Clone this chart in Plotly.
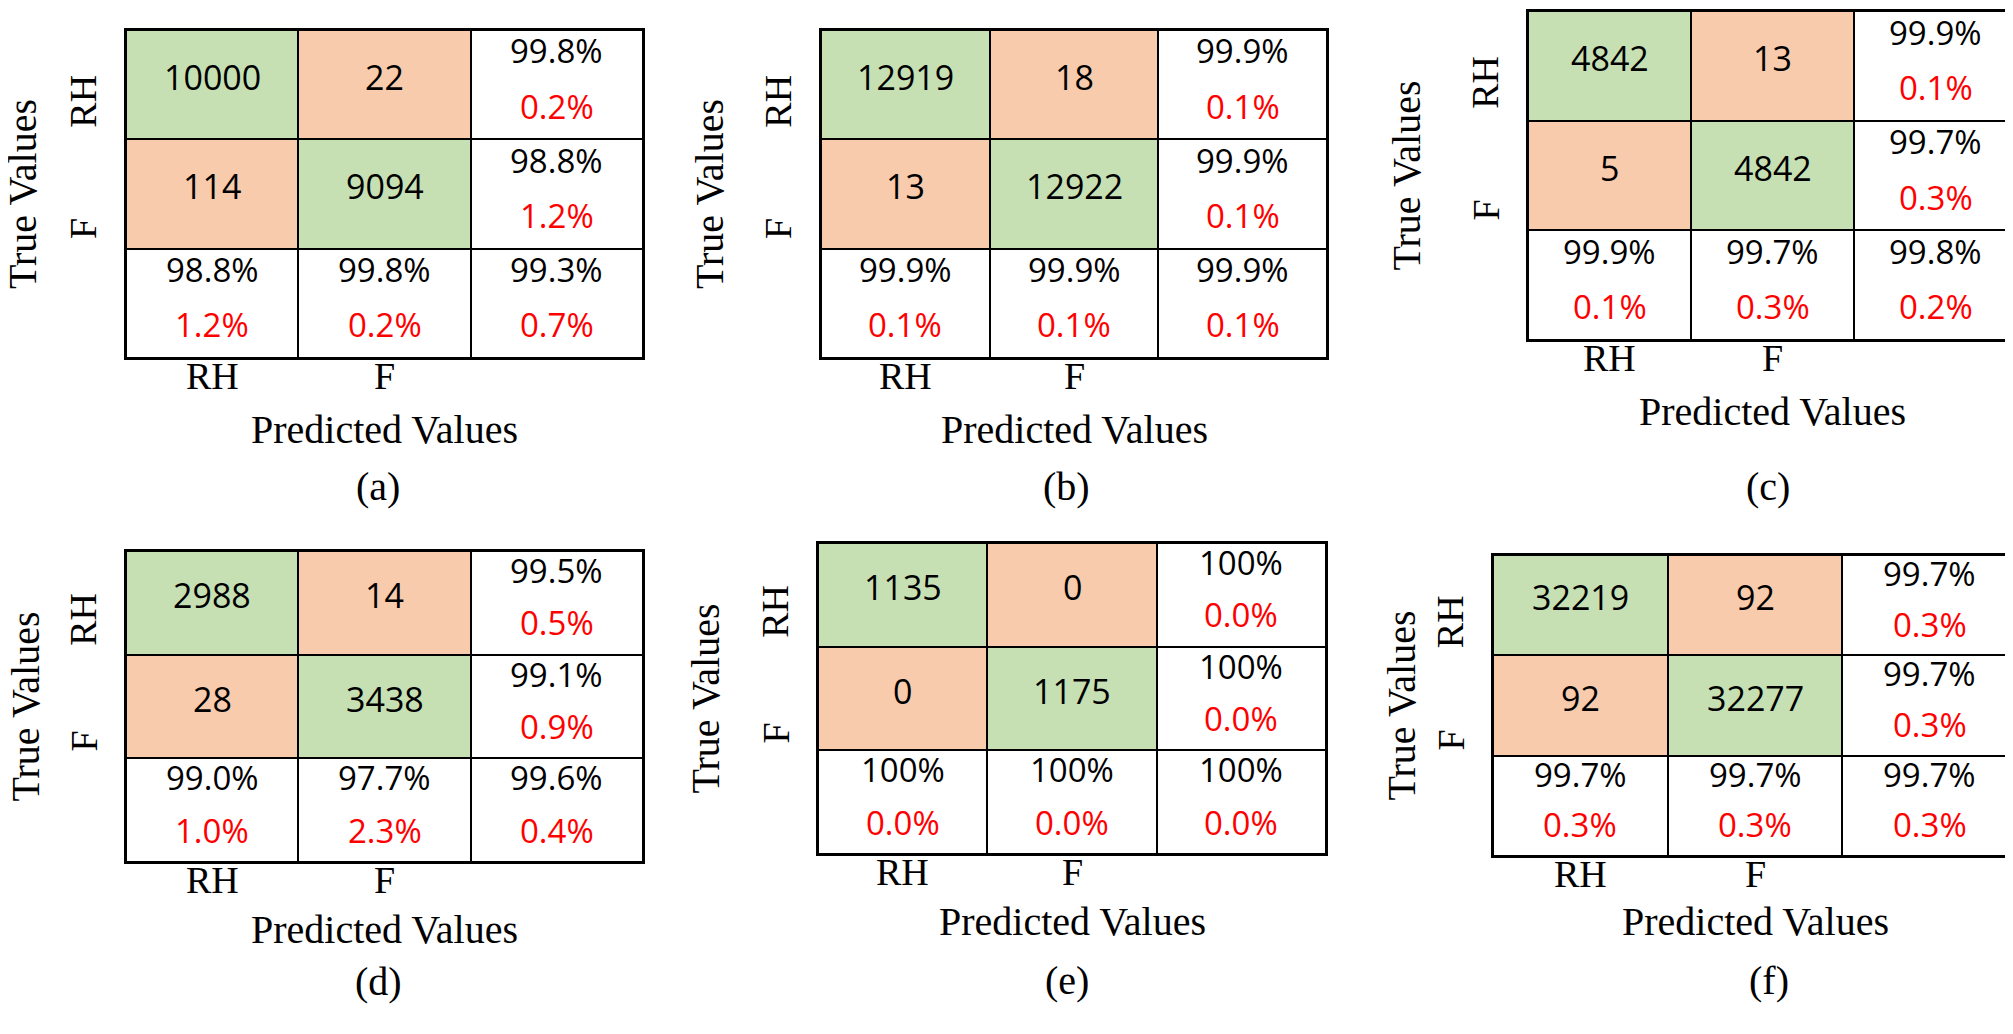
import plotly.graph_objects as go

# ---------------- data ----------------
class_labels = ["RH", "F"]
panel_names = ["(a)", "(b)", "(c)", "(d)", "(e)", "(f)"]

counts_a = [[10000, 22], [114, 9094]]
row_acc_a = [99.8, 98.8]
row_err_a = [0.2, 1.2]
col_acc_a = [98.8, 99.8]
col_err_a = [1.2, 0.2]
tot_a = [99.3, 0.7]

counts_b = [[12919, 18], [13, 12922]]
row_acc_b = [99.9, 99.9]
row_err_b = [0.1, 0.1]
col_acc_b = [99.9, 99.9]
col_err_b = [0.1, 0.1]
tot_b = [99.9, 0.1]

counts_c = [[4842, 13], [5, 4842]]
row_acc_c = [99.9, 99.7]
row_err_c = [0.1, 0.3]
col_acc_c = [99.9, 99.7]
col_err_c = [0.1, 0.3]
tot_c = [99.8, 0.2]

counts_d = [[2988, 14], [28, 3438]]
row_acc_d = [99.5, 99.1]
row_err_d = [0.5, 0.9]
col_acc_d = [99.0, 97.7]
col_err_d = [1.0, 2.3]
tot_d = [99.6, 0.4]

counts_e = [[1135, 0], [0, 1175]]
row_acc_e = [100, 100]
row_err_e = [0.0, 0.0]
col_acc_e = [100, 100]
col_err_e = [0.0, 0.0]
tot_e = [100, 0.0]

counts_f = [[32219, 92], [92, 32277]]
row_acc_f = [99.7, 99.7]
row_err_f = [0.3, 0.3]
col_acc_f = [99.7, 99.7]
col_err_f = [0.3, 0.3]
tot_f = [99.7, 0.3]

# cell kind: 0 = correct (green), 1 = wrong (orange), 2 = summary (white)
cell_kind = [[0, 1, 2], [1, 0, 2], [2, 2, 2]]

panels_data = [
    (counts_a, row_acc_a, row_err_a, col_acc_a, col_err_a, tot_a),
    (counts_b, row_acc_b, row_err_b, col_acc_b, col_err_b, tot_b),
    (counts_c, row_acc_c, row_err_c, col_acc_c, col_err_c, tot_c),
    (counts_d, row_acc_d, row_err_d, col_acc_d, col_err_d, tot_d),
    (counts_e, row_acc_e, row_err_e, col_acc_e, col_err_e, tot_e),
    (counts_f, row_acc_f, row_err_f, col_acc_f, col_err_f, tot_f),
]

# ---------------- layout (pixel geometry of each panel) ----------------
W, H = 2013, 1034
geom = [
    dict(L=118, R=635, T=22, B=350, tv=-94, pv=431, cx=370, cy=488),
    dict(L=813, R=1319, T=22, B=350, tv=-102, pv=431, cx=1058, cy=488),
    dict(L=1520, R=2009, T=3, B=332, tv=-112, pv=413, cx=1760, cy=488),
    dict(L=118, R=635, T=543, B=854, tv=-91, pv=931, cx=370, cy=983),
    dict(L=810, R=1318, T=535, B=846, tv=-103, pv=923, cx=1059, cy=982),
    dict(L=1485, R=2009, T=547, B=848, tv=-82, pv=923, cx=1761, cy=982),
]

GREEN = "#C6E0B4"
ORANGE = "#F8CBAD"
RED = "#FF0000"
SERIF = "Liberation Serif"
SANS = "Open Sans"
SANS_FIX = 8     # visual centring correction for sans text (px)
SERIF_FIX = 10   # visual centring correction for serif text (px)


def fmt(v):
    return "100%" if v == 100 else f"{v:.1f}%"


fig = go.Figure()
annotations = []
layout_axes = {}

for i, (data, g) in enumerate(zip(panels_data, geom)):
    counts, racc, rerr, cacc, cerr, tot = data
    sfx = "" if i == 0 else str(i + 1)
    xa, ya = "x" + sfx, "y" + sfx
    layout_axes["xaxis" + sfx] = dict(
        domain=[g["L"] / W, g["R"] / W], anchor=ya, range=[-0.5, 2.5],
        showticklabels=False, showgrid=False, zeroline=False, ticks="",
        showline=True, mirror=True, linecolor="black", linewidth=2, fixedrange=True)
    layout_axes["yaxis" + sfx] = dict(
        domain=[1 - g["B"] / H, 1 - g["T"] / H], anchor=xa, range=[2.5, -0.5],
        showticklabels=False, showgrid=False, zeroline=False, ticks="",
        showline=True, mirror=True, linecolor="black", linewidth=2, fixedrange=True)

    fig.add_trace(go.Heatmap(
        z=cell_kind, x=[0, 1, 2], y=[0, 1, 2], xaxis=xa, yaxis=ya,
        zmin=0, zmax=2, showscale=False, xgap=2, ygap=2, hoverinfo="skip",
        colorscale=[[0, GREEN], [0.33, GREEN], [0.34, ORANGE], [0.66, ORANGE],
                    [0.67, "white"], [1, "white"]]))

    rowh = (g["B"] - g["T"]) / 3.0
    up = 0.235 * rowh + SANS_FIX
    dn = -0.27 * rowh + SANS_FIX

    base = dict(showarrow=False, xanchor="center", yanchor="middle")

    # counts
    for r in range(2):
        for c in range(2):
            annotations.append(dict(
                base, x=c, y=r, xref=xa, yref=ya, text=str(counts[r][c]),
                yshift=SANS_FIX, font=dict(family=SANS, size=34, color="black")))

    # summary cells
    summ = []
    for r in range(2):
        summ.append((2, r, racc[r], rerr[r]))
    for c in range(2):
        summ.append((c, 2, cacc[c], cerr[c]))
    summ.append((2, 2, tot[0], tot[1]))
    for (cx, cy, acc, err) in summ:
        annotations.append(dict(
            base, x=cx, y=cy, xref=xa, yref=ya, text=fmt(acc), yshift=up,
            font=dict(family=SANS, size=33, color="black")))
        annotations.append(dict(
            base, x=cx, y=cy, xref=xa, yref=ya, text=fmt(err), yshift=dn,
            font=dict(family=SANS, size=33, color=RED)))

    # y class labels (rotated)
    for r, lab in enumerate(class_labels):
        annotations.append(dict(
            base, x=0, y=r, xref=xa + " domain", yref=ya,
            xshift=-33 - SERIF_FIX, yshift=-(17 + 18 * r),
            text=lab, textangle=-90,
            font=dict(family=SERIF, size=38, color="black")))
    # x class labels
    for c, lab in enumerate(class_labels):
        annotations.append(dict(
            base, x=c, y=0, xref=xa, yref=ya + " domain", yshift=-28 + SERIF_FIX,
            text=lab, font=dict(family=SERIF, size=38, color="black")))

    # axis titles
    annotations.append(dict(
        base, x=0, y=0.5, xref=xa + " domain", yref=ya + " domain",
        xshift=g["tv"] - SERIF_FIX, text="True Values", textangle=-90,
        font=dict(family=SERIF, size=40, color="black")))
    annotations.append(dict(
        base, x=0.5, y=1 - g["pv"] / H, xref=xa + " domain", yref="paper",
        yshift=SERIF_FIX, text="Predicted Values",
        font=dict(family=SERIF, size=40, color="black")))
    # panel caption
    annotations.append(dict(
        base, x=g["cx"] / W, y=1 - g["cy"] / H, xref="paper", yref="paper",
        yshift=SERIF_FIX, text=panel_names[i],
        font=dict(family=SERIF, size=40, color="black")))

fig.update_layout(
    width=W, height=H, margin=dict(l=0, r=0, t=0, b=0),
    paper_bgcolor="white", plot_bgcolor="black",
    showlegend=False, annotations=annotations, **layout_axes)

fig.write_html("out.html", config={"displayModeBar": False})
